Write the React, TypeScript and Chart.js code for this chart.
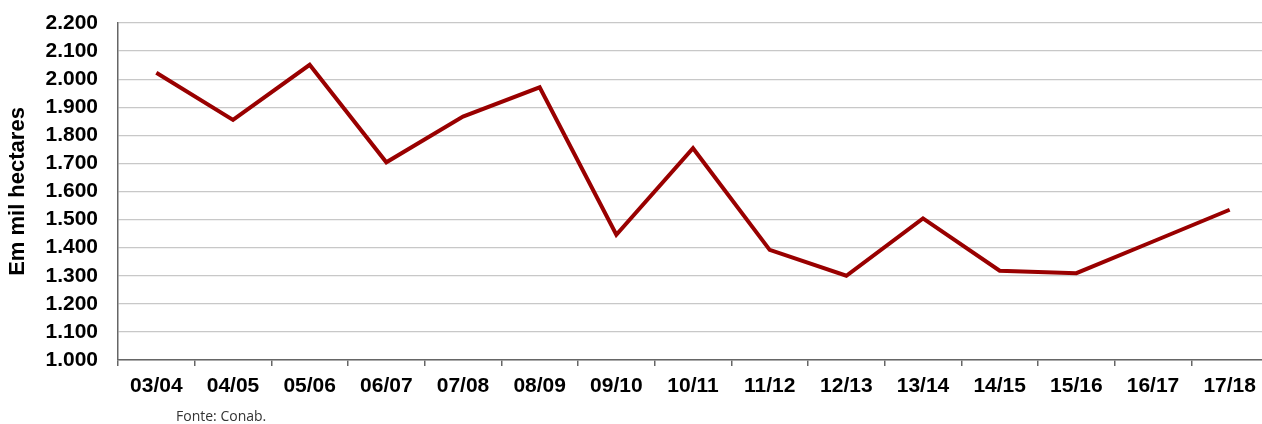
import React, { useEffect, useRef } from "react";
import { Chart, registerables } from "chart.js";

Chart.register(...registerables);

const categories = ["03/04", "04/05", "05/06", "06/07", "07/08", "08/09", "09/10", "10/11", "11/12", "12/13", "13/14", "14/15", "15/16", "16/17", "17/18"];
const areaValues = [2023, 1855, 2051, 1704, 1867, 1971, 1446, 1754, 1392, 1300, 1504, 1318, 1309, 1422, 1535];
const yMin = 1000;
const yMax = 2200;
const yStep = 100;
const yTitle = "Em mil hectares";
const sourceNote = "Fonte: Conab.";

const fmt = (v: number) => {
  const s = String(Math.round(v));
  return s.replace(/\B(?=(\d{3})+(?!\d))/g, ".");
};

export default function App() {
  const ref = useRef<HTMLCanvasElement | null>(null);
  useEffect(() => {
    if (!ref.current) return;
    const notePlugin = {
      id: "note",
      afterDraw(chart: any) {
        const { ctx, chartArea } = chart;
        ctx.save();
        ctx.font = "14px 'Open Sans'";
        ctx.fillStyle = "#333";
        ctx.textAlign = "left";
        ctx.textBaseline = "middle";
        ctx.fillText(sourceNote, chartArea.left + 58, chartArea.bottom + 57);
        ctx.restore();
      },
    };
    const chart = new Chart(ref.current, {
      type: "line",
      data: {
        labels: categories,
        datasets: [
          {
            data: areaValues,
            borderColor: "#990000",
            backgroundColor: "#990000",
            borderWidth: 4,
            pointRadius: 0,
            tension: 0,
            fill: false,
          },
        ],
      },
      options: {
        responsive: false,
        animation: false,
        layout: { padding: { top: 23, left: 0, right: 0, bottom: 0 } },
        plugins: {
          legend: { display: false },
          tooltip: { enabled: false },
        },
        scales: {
          x: {
            offset: true,
            grid: {
              offset: true,
              drawOnChartArea: false,
              drawTicks: true,
              tickLength: 6,
              color: "#666",
              lineWidth: 1.5,
            },
            border: { color: "#666", width: 1.5 },
            ticks: {
              color: "#000",
              font: { family: "'Liberation Sans', Arial", size: 21, weight: "bold" },
              padding: 8,
              maxRotation: 0,
              autoSkip: false,
            },
            afterFit(scale: any) {
              scale.height = 64;
              scale.paddingLeft = 0;
              scale.paddingRight = 0;
            },
          },
          y: {
            min: yMin,
            max: yMax,
            ticks: {
              stepSize: yStep,
              autoSkip: false,
              color: "#000",
              font: { family: "'Liberation Sans', Arial", size: 21, weight: "bold" },
              padding: 20,
              callback: (v: any) => fmt(Number(v)),
            },
            grid: { color: "#c8c8c8", lineWidth: 1.2, drawTicks: false },
            border: { color: "#666", width: 1.5 },
            title: {
              display: true,
              text: yTitle,
              color: "#000",
              font: { family: "'Liberation Sans', Arial", size: 22, weight: "bold" },
              padding: { top: 5, bottom: 0 },
            },
            afterFit(scale: any) {
              scale.width = 118;
              scale.paddingTop = 0;
              scale.paddingBottom = 0;
            },
          },
        },
      },
      plugins: [notePlugin],
    });
    return () => chart.destroy();
  }, []);
  return (
    <div style={{ position: "fixed", left: 0, top: 0, width: 1262, height: 424, overflow: "hidden", background: "#fff" }}>
      <canvas ref={ref} width={1268} height={424} style={{ display: "block" }} />
    </div>
  );
}
